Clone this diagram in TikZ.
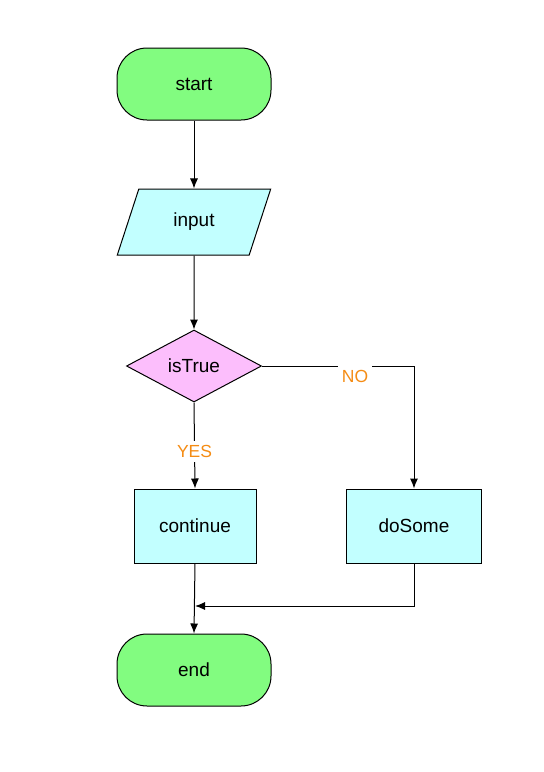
\documentclass[tikz,border=0pt]{standalone}
\usepackage{fontspec}
\setmainfont{Liberation Sans}
\usetikzlibrary{shapes.geometric,arrows.meta}
\definecolor{termgreen}{RGB}{130,252,128}
\definecolor{boxcyan}{RGB}{194,255,255}
\definecolor{condpink}{RGB}{252,190,252}
\definecolor{yesnoorange}{RGB}{245,140,20}
\tikzset{
  terminal/.style={draw, fill=termgreen, rounded corners=30pt, minimum width=154pt, minimum height=72pt},
  io/.style={draw, fill=boxcyan, trapezium, trapezium left angle=65.6, trapezium right angle=114.4,
    trapezium stretches=true, minimum width=154pt, minimum height=66pt, inner sep=0pt},
  cond/.style={draw, fill=condpink, diamond, minimum width=135pt, minimum height=72pt, inner sep=0pt},
  process/.style={draw, fill=boxcyan, minimum height=74pt},
  yesno/.style={fill=white, text=yesnoorange, inner sep=4pt, font=\fontsize{17.5}{20}\selectfont},
  flow/.style={-{Latex[length=10pt,width=8pt]}, line width=1pt}
}
\begin{document}
\begin{tikzpicture}[x=1pt, y=1pt, line width=1pt, font=\fontsize{19}{22}\selectfont]
   \useasboundingbox (0,0) rectangle (544,-772);
   % shapes
   \node[terminal] (start) at (194,-84) {start};
   \node[io] (input) at (194,-222) {input};
   \node[cond] (isTrue) at (194,-366) {isTrue};
   \node[process, minimum width=122pt] (continue) at (195,-526) {continue};
   \node[process, minimum width=135pt] (doSome) at (414,-526) {doSome};
   \node[terminal] (end) at (194,-670) {end};
   \coordinate (join) at (195,-606);
   % connectors
   \draw[flow] (start) -- (input);
   \draw[flow] (input) -- (isTrue);
   \draw[flow] (isTrue.south) -- node[yesno, pos=0.57] {YES} (continue.north);
   \draw[flow] (isTrue.east) -| (doSome.north);
   \node[yesno] (no) at (355,-376) {NO};
   \draw[flow] (continue.south) -- (end.north);
   \draw[flow] (doSome.south) |- (join);
\end{tikzpicture}
\end{document}
